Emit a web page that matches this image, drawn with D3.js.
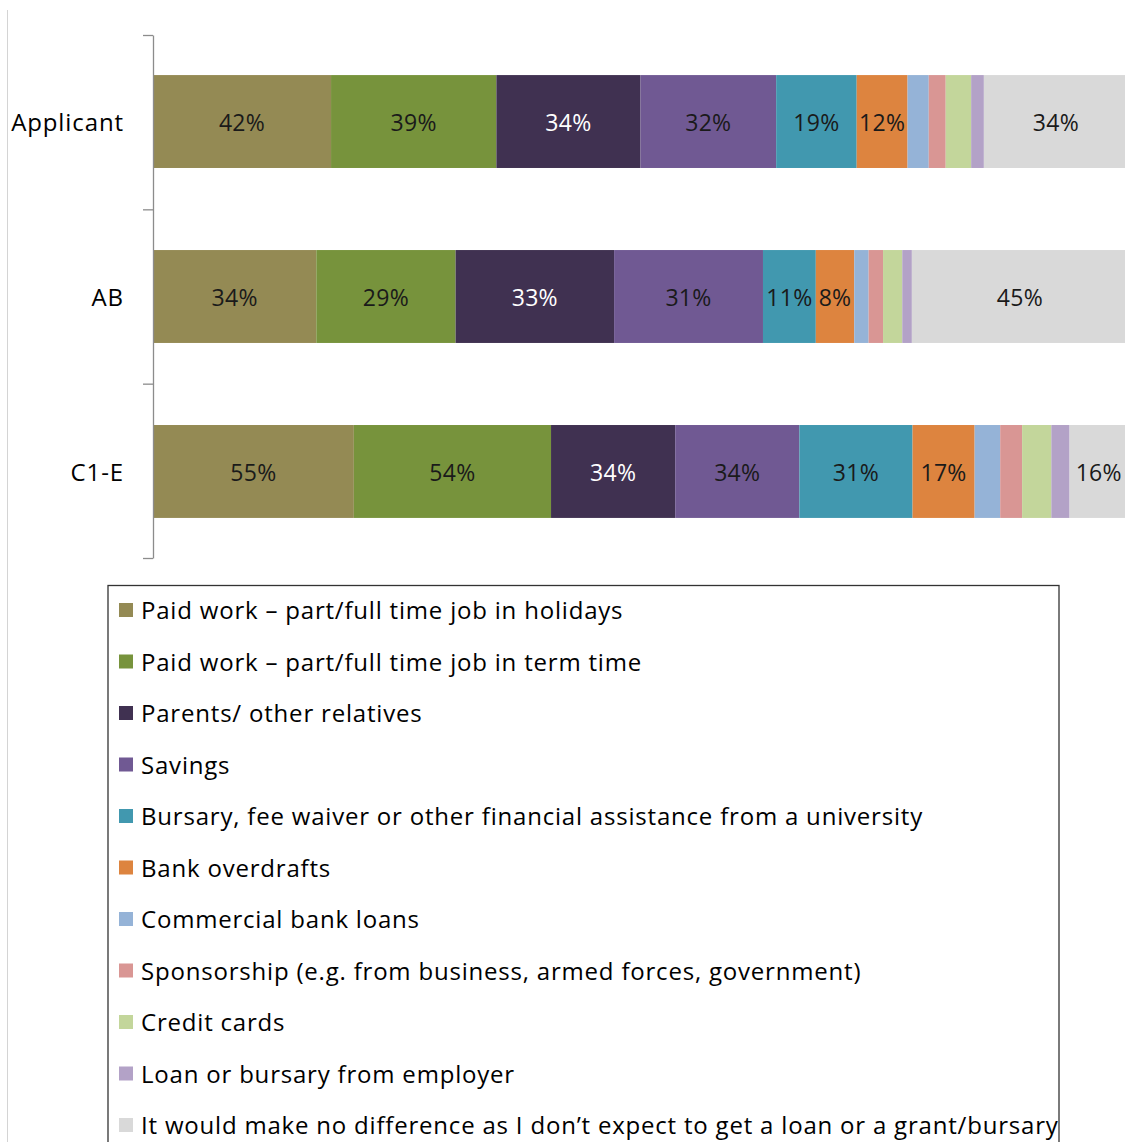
<!DOCTYPE html>
<html>
<head>
<meta charset="utf-8">
<script src="https://d3js.org/d3.v7.min.js"></script>
<style>
  html, body { margin: 0; padding: 0; background: #fff; }
  svg { display: block; font-family: "Open Sans", "DejaVu Sans", sans-serif; }
</style>
</head>
<body>
<div id="chart"></div>
<script>
// Categories (bars, top to bottom)
const categories = ['Applicant', 'AB', 'C1-E'];

// Series names, in stacking order
const seriesNames = [
  'Paid work \u2013 part/full time job in holidays',
  'Paid work \u2013 part/full time job in term time',
  'Parents/ other relatives',
  'Savings',
  'Bursary, fee waiver or other financial assistance from a university',
  'Bank overdrafts',
  'Commercial bank loans',
  'Sponsorship (e.g. from business, armed forces, government)',
  'Credit cards',
  'Loan or bursary from employer',
  'It would make no difference as I don\u2019t expect to get a loan or a grant/bursary'
];

// Values per series (Applicant, AB, C1-E), in percent
const holidays     = [42, 34, 55];
const termTime     = [39, 29, 54];
const parents      = [34, 33, 34];
const savings      = [32, 31, 34];
const uniBursary   = [19, 11, 31];
const overdrafts   = [12, 8, 17];
const bankLoans    = [5, 3, 7];
const sponsorship  = [4, 3, 6];
const creditCards  = [6, 4, 8];
const employer     = [3, 2, 5];
const noDifference = [34, 45, 16];

const seriesValues = [holidays, termTime, parents, savings, uniBursary, overdrafts,
                      bankLoans, sponsorship, creditCards, employer, noDifference];

const colors = ['#948a54', '#77933c', '#403151', '#705993', '#4198af', '#dd843f',
                '#95b3d7', '#d99694', '#c3d69b', '#b3a2c7', '#d9d9d9'];

// Which series get a data label in the bars
const labelled = [true, true, true, true, true, true, false, false, false, false, true];

const width = 1125, height = 1142;
const margin = { top: 35, left: 153, right: 1128 };

const svg = d3.select('#chart').append('svg')
  .attr('width', width)
  .attr('height', height);

// Table for the stack
const keys = seriesNames.map((_, i) => 's' + i);
const table = categories.map((c, ci) => {
  const row = { category: c };
  keys.forEach((k, si) => { row[k] = seriesValues[si][ci]; });
  return row;
});

const stacked = d3.stack().keys(keys).offset(d3.stackOffsetExpand)(table);

const x = d3.scaleLinear().domain([0, 1]).range([margin.left, margin.right]);
const y = d3.scaleBand().domain(categories).range([margin.top, 558])
  .paddingInner(0.469).paddingOuter(0.229);

// faint page line on the left
svg.append('line')
  .attr('x1', 7.5).attr('x2', 7.5).attr('y1', 10).attr('y2', height)
  .attr('stroke', '#d4d4d4').attr('stroke-width', 1);

// bars
const groups = svg.selectAll('.series')
  .data(stacked)
  .enter().append('g')
  .attr('class', 'series')
  .attr('fill', (d, i) => colors[i]);

groups.selectAll('rect')
  .data(d => d.map(v => ({ v, cat: v.data.category })))
  .enter().append('rect')
  .attr('x', d => x(d.v[0]))
  .attr('y', d => y(d.cat))
  .attr('width', d => x(d.v[1]) - x(d.v[0]))
  .attr('height', y.bandwidth());

// data labels
groups.each(function(s, si) {
  if (!labelled[si]) return;
  d3.select(this).selectAll('text')
    .data(s.map(v => ({ v, cat: v.data.category, val: v.data[s.key] })))
    .enter().append('text')
    .attr('x', d => (x(d.v[0]) + x(d.v[1])) / 2)
    .attr('y', d => y(d.cat) + y.bandwidth() / 2)
    .attr('dy', '0.43em')
    .attr('text-anchor', 'middle')
    .attr('font-size', '23px')
    .attr('letter-spacing', '0.3px')
    .attr('fill', si === 2 ? '#ffffff' : '#1a1a1a')
    .text(d => d.val + '%');
});

// category axis with ticks between categories
const yb = d3.scaleLinear().domain([0, categories.length]).range([margin.top, 558]);
const axis = svg.append('g')
  .attr('transform', `translate(${margin.left},0)`)
  .call(d3.axisLeft(yb).tickValues(d3.range(categories.length + 1)).tickFormat('').tickSize(10).tickSizeOuter(0));
axis.selectAll('path, line').attr('stroke', '#8c8c8c').attr('stroke-width', 1.3);

svg.selectAll('.cat-label')
  .data(categories)
  .enter().append('text')
  .attr('class', 'cat-label')
  .attr('x', 124)
  .attr('y', d => y(d) + y.bandwidth() / 2)
  .attr('dy', '0.4em')
  .attr('text-anchor', 'end')
  .attr('font-size', '24px')
  .attr('letter-spacing', '0.9px')
  .attr('fill', '#000')
  .text(d => d);

// legend
const legend = svg.append('g');
legend.append('rect')
  .attr('x', 108).attr('y', 585.5)
  .attr('width', 951).attr('height', 600)
  .attr('fill', 'none').attr('stroke', '#333').attr('stroke-width', 1.3);

const ly = d3.scalePoint().domain(d3.range(seriesNames.length)).range([610, 1125]);

const items = legend.selectAll('.item')
  .data(seriesNames)
  .enter().append('g')
  .attr('transform', (d, i) => `translate(0,${ly(i)})`);

items.append('rect')
  .attr('x', 119).attr('y', -7).attr('width', 14).attr('height', 14)
  .attr('fill', (d, i) => colors[i]);

items.append('text')
  .attr('x', 141)
  .attr('dy', '0.38em')
  .attr('font-size', '24px')
  .attr('letter-spacing', '0.8px')
  .attr('fill', '#000')
  .text(d => d);
</script>
</body>
</html>
